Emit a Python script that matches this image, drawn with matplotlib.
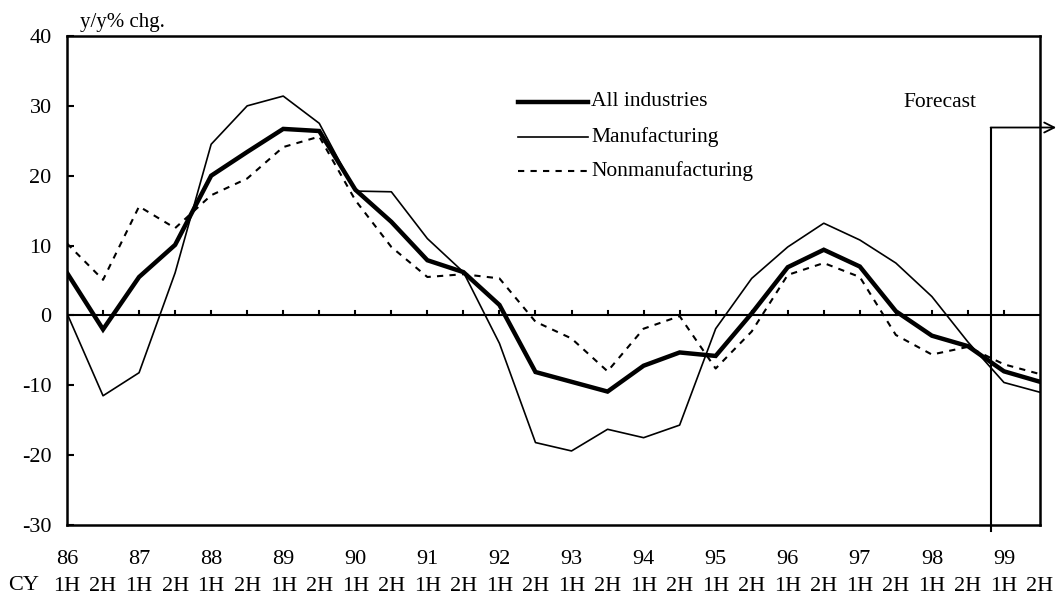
import matplotlib
matplotlib.use("Agg")
import matplotlib.pyplot as plt
import numpy as np

plt.rcParams['font.family'] = ['Liberation Serif', 'DejaVu Serif']

years = ["86", "87", "88", "89", "90", "91", "92", "93", "94", "95", "96", "97", "98", "99"]
halves = ["1H", "2H"] * 14

all_ind = [6.1, -2.0, 5.5, 10.1, 20.0, 23.4, 26.7, 26.4, 18.0, 13.4, 7.9, 6.2, 1.5, -8.1,
           -9.5, -10.9, -7.2, -5.3, -5.8, 0.3, 6.9, 9.4, 7.0, 0.6, -2.9, -4.4, -8.0, -9.5]
manuf = [0.3, -11.5, -8.2, 6.1, 24.5, 30.0, 31.4, 27.5, 17.8, 17.7, 11.0, 6.2, -4.0, -18.2,
         -19.4, -16.3, -17.5, -15.7, -1.9, 5.3, 9.8, 13.2, 10.8, 7.5, 2.7, -3.8, -9.6, -11.0]
nonmanuf = [10.3, 5.1, 15.6, 12.5, 17.2, 19.6, 24.1, 25.6, 16.5, 9.8, 5.5, 5.9, 5.3, -0.9,
            -3.3, -8.0, -1.9, -0.1, -7.6, -2.3, 5.8, 7.5, 5.5, -2.8, -5.6, -4.5, -7.0, -8.4]

W, H = 1057, 597
fig = plt.figure(figsize=(W / 100, H / 100), dpi=100)
L, R, T, B = 67, 1040, 36, 525
ax = fig.add_axes([L / W, 1 - B / H, (R - L) / W, (B - T) / H])

x = np.arange(len(all_ind))
ax.plot(x, manuf, color='black', lw=1.2, zorder=3)
ax.plot(x, nonmanuf, color='black', lw=1.5, ls=(0, (3, 3)), zorder=3)
ax.plot(x, all_ind, color='black', lw=3.2, zorder=4, solid_joinstyle='miter')

ax.set_xlim(0, len(x) - 1)
ax.set_ylim(-30, 40)
ax.set_yticks(np.arange(-30, 41, 10))
ax.set_yticklabels([str(v) for v in range(-30, 41, 10)], fontsize=16)
ax.tick_params(axis='y', direction='in', length=5, width=1.5, pad=11)
ax.set_xticks([])
for s in ax.spines.values():
    s.set_linewidth(1.8)

# zero line with tick marks
ax.axhline(0, color='black', lw=1.5, zorder=2)
for i in x[1:-1]:
    ax.plot([i, i], [0, 0.7], color='black', lw=1.5, zorder=2)

# forecast marker
fx = 25.65
fy = 26.9
ax.plot([fx, fx], [fy, -30.8], color='black', lw=1.5, clip_on=False, zorder=5)
ax.annotate('', xy=(27.45, fy), xytext=(fx - 0.02, fy),
            arrowprops=dict(arrowstyle='->', color='black', lw=1.3, shrinkA=0, shrinkB=0,
                            mutation_scale=18),
            annotation_clip=False)
ax.text(24.22, 30.5, 'Forecast', fontsize=15.5, ha='center', va='center')

# legend (manual)
def px2fig(px, py):
    return px / W, 1 - py / H

leg = [("All industries", dict(lw=3.2, ls='-')),
       ("Manufacturing", dict(lw=1.2, ls='-')),
       ("Nonmanufacturing", dict(lw=1.5, ls=(0, (3, 3))))]
rows = [102, 137, 171]
for (lab, st), py in zip(leg, rows):
    x0, y0 = px2fig(518, py)
    x1, _ = px2fig(588, py)
    fig.add_artist(plt.Line2D([x0, x1], [y0, y0], color='black', transform=fig.transFigure, **st))
    tx, ty = px2fig(591, py)
    fig.text(tx, ty, lab, fontsize=15.5, ha='left', va='center')

# unit label
ux, uy = px2fig(80, 22)
fig.text(ux, uy, 'y/y% chg.', fontsize=15, ha='left', va='center')

# category labels
for k, yr in enumerate(years):
    ax.text(2 * k, -34.9, yr, fontsize=16, ha='center', va='center')
for i, hlab in enumerate(halves):
    ax.text(i, -38.8, hlab, fontsize=16, ha='center', va='center')
cx, cy = px2fig(24, 586)
fig.text(cx, cy, 'CY', fontsize=16, ha='center', va='center')

fig.savefig('out.png', dpi=100)
